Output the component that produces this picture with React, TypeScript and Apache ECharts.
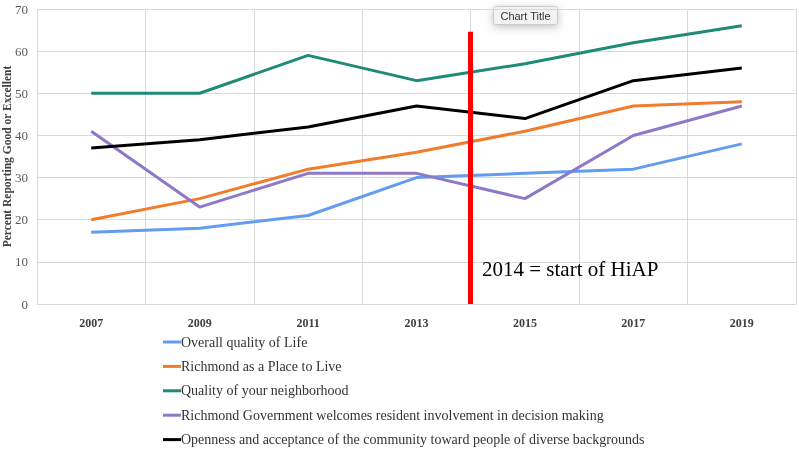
import React, { useEffect, useRef } from "react";
import * as echarts from "echarts";

const years = ["2007", "2009", "2011", "2013", "2015", "2017", "2019"];
const overallQuality = [17, 18, 21, 30, 31, 32, 38];
const placeToLive = [20, 25, 32, 36, 41, 47, 48];
const neighborhood = [50, 50, 59, 53, 57, 62, 66];
const govInvolvement = [41, 23, 31, 31, 25, 40, 47];
const openness = [37, 39, 42, 47, 44, 53, 56];
const seriesNames = [
  "Overall quality of Life",
  "Richmond as a Place to Live",
  "Quality of your neighborhood",
  "Richmond Government welcomes resident involvement in decision making",
  "Openness and acceptance of the community toward people of diverse backgrounds",
];
const seriesColors = ["#639cf0", "#f07d2c", "#1f8a78", "#8e78c8", "#000000"];
const hiapYear = 2014;
const hiapTop = 64.6;

export default function App() {
  const ref = useRef<HTMLDivElement>(null);
  useEffect(() => {
    if (!ref.current) return;
    const chart = echarts.init(ref.current, null, { renderer: "svg" });
    const values = [overallQuality, placeToLive, neighborhood, govInvolvement, openness];
    const serif = "'Liberation Serif', 'Times New Roman', serif";
    const lineSeries: any[] = values.map((v, i) => ({
      name: seriesNames[i],
      type: "line",
      data: v,
      symbol: "none",
      lineStyle: { width: 3, color: seriesColors[i] },
      itemStyle: { color: seriesColors[i] },
      z: 3,
    }));
    lineSeries.push({
      type: "line",
      xAxisIndex: 1,
      data: [],
      symbol: "none",
      silent: true,
      markLine: {
        silent: true,
        symbol: "none",
        label: { show: false },
        lineStyle: { color: "#ff0000", width: 5, type: "solid" },
        data: [[{ coord: [hiapYear, 0] }, { coord: [hiapYear, hiapTop] }]],
      },
      z: 5,
    });
    chart.setOption({
      animation: false,
      grid: { left: 37, right: 3, top: 9, bottom: 146, containLabel: false, outerBoundsMode: "none" },
      xAxis: [
        {
          type: "category",
          data: years,
          boundaryGap: true,
          axisLine: { show: true, lineStyle: { color: "#d9d9d9" } },
          axisTick: { show: false },
          splitLine: { show: true, lineStyle: { color: "#d9d9d9", width: 1 } },
          axisLabel: {
            color: "#404040",
            fontFamily: serif,
            fontWeight: "bold",
            fontSize: 12,
            margin: 13,
          },
        },
        {
          type: "value",
          min: 2006,
          max: 2020,
          show: false,
        },
      ],
      yAxis: {
        type: "value",
        min: 0,
        max: 70,
        interval: 10,
        name: "Percent Reporting Good or Excellent",
        nameLocation: "middle",
        nameGap: 24,
        nameMoveOverlap: false,
        nameTextStyle: {
          fontFamily: serif,
          fontWeight: "bold",
          fontSize: 11.5,
          color: "#404040",
        },
        axisLine: { show: false },
        axisTick: { show: false },
        splitLine: { lineStyle: { color: "#d9d9d9", width: 1 } },
        axisLabel: { color: "#595959", fontFamily: serif, fontSize: 13, margin: 9 },
      },
      legend: {
        orient: "vertical",
        left: 163,
        top: 333,
        height: 140,
        padding: 0,
        icon: "rect",
        itemWidth: 18,
        itemHeight: 3,
        itemGap: 6.4,
        data: seriesNames,
        textStyle: {
          fontFamily: serif,
          fontSize: 14,
          color: "#333333",
          lineHeight: 18,
          padding: [0, 0, 0, -5],
        },
      },
      graphic: [
        {
          type: "text",
          left: 482,
          top: 258,
          style: {
            text: "2014 = start of HiAP",
            font: "21px 'Liberation Serif', 'Times New Roman', serif",
            fill: "#000000",
          },
          z: 10,
        },
        {
          type: "group",
          left: 493,
          top: 6,
          z: 10,
          children: [
            {
              type: "rect",
              shape: { x: 0, y: 0, width: 64, height: 18, r: 2 },
              style: {
                fill: "#f2f2f2",
                stroke: "#cccccc",
                lineWidth: 1,
                shadowBlur: 8,
                shadowColor: "rgba(0,0,0,0.25)",
                shadowOffsetY: 2,
              },
            },
            {
              type: "text",
              x: 32,
              y: 9,
              style: {
                text: "Chart Title",
                font: "11px 'Liberation Sans', Arial, sans-serif",
                fill: "#333333",
                align: "center",
                verticalAlign: "middle",
              },
            },
          ],
        },
      ],
      series: lineSeries,
    });
    return () => chart.dispose();
  }, []);
  return <div ref={ref} style={{ width: 799, height: 450, position: "fixed", left: 0, top: 0 }} />;
}
